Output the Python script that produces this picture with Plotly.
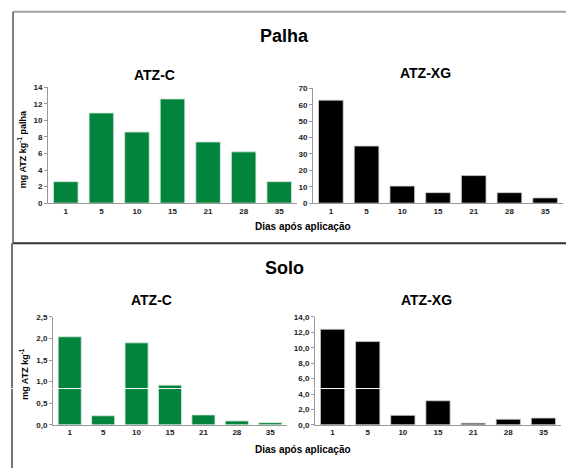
import plotly.graph_objects as go

W, H = 567, 473

dias = ["1", "5", "10", "15", "21", "28", "35"]
palha_atzc = [2.6, 10.9, 8.6, 12.6, 7.4, 6.2, 2.6]
palha_atzxg = [62.8, 34.8, 10.4, 6.4, 16.8, 6.4, 3.2]
solo_atzc = [2.04, 0.21, 1.90, 0.92, 0.23, 0.09, 0.05]
solo_atzxg = [12.4, 10.8, 1.23, 3.12, 0.22, 0.72, 0.88]

solo_c_ticks = [0, 0.5, 1.0, 1.5, 2.0, 2.5]
solo_c_text = ["0,0", "0,5", "1,0", "1,5", "2,0", "2,5"]
solo_xg_ticks = [0, 2, 4, 6, 8, 10, 12, 14]
solo_xg_text = ["0,0", "2,0", "4,0", "6,0", "8,0", "10,0", "12,0", "14,0"]

GREEN = "#03843D"
BLACK = "#000000"

def px(x):
    return x / W

def py(y):
    return 1 - y / H

fig = go.Figure()

panels = [
    (palha_atzc, GREEN, 1, 48, 297, 85, 203, [0, 14], dict(tickvals=list(range(0, 15, 2)))),
    (palha_atzxg, BLACK, 2, 313, 563, 86, 203, [0, 70], dict(tickvals=list(range(0, 71, 10)))),
    (solo_atzc, GREEN, 3, 53, 287, 319, 429, [0, 2.5], dict(tickvals=solo_c_ticks, ticktext=solo_c_text)),
    (solo_atzxg, BLACK, 4, 315, 561, 319, 429, [0, 14], dict(tickvals=solo_xg_ticks, ticktext=solo_xg_text)),
]

tickfont = dict(family="Liberation Sans, Arial", size=8, color="#222", weight="bold")

for vals, col, i, x0, x1, yt, yb, yr, tk in panels:
    sfx = "" if i == 1 else str(i)
    fig.add_trace(go.Bar(
        x=dias, y=vals,
        marker=dict(color=col, line=dict(color="#d8e8dc" if col == GREEN else "#cccccc", width=0.8)),
        xaxis="x" + sfx, yaxis="y" + sfx, showlegend=False,
    ))
    fig.layout["xaxis" + sfx] = dict(
        domain=[px(x0), px(x1)], anchor="y" + sfx, type="category",
        range=[-0.5, 6.5], showgrid=False, zeroline=False,
        showline=True, linecolor="#999999", linewidth=1,
        ticks="", tickfont=tickfont, fixedrange=True,
    )
    fig.layout["yaxis" + sfx] = dict(
        domain=[py(yb), py(yt)], anchor="x" + sfx, range=yr,
        showgrid=False, zeroline=False, showline=True, linecolor="#999999", linewidth=1,
        ticks="outside", ticklen=3, tickcolor="#999999", tickfont=tickfont, **tk,
    )

fig.update_layout(width=W, height=H, margin=dict(l=0, r=0, t=0, b=0),
                  paper_bgcolor="white", plot_bgcolor="white", bargap=0.31)

def text(t, x, y, size, angle=0):
    fig.add_annotation(text=t, x=px(x), y=py(y), xref="paper", yref="paper",
                       showarrow=False, textangle=angle, xanchor="center", yanchor="middle",
                       font=dict(family="Liberation Sans, Arial", size=size, color="black", weight="bold"))

text("Palha", 284, 33, 18)
text("ATZ-C", 154, 72, 14)
text("ATZ-XG", 425, 70, 14)
text("Dias após aplicação", 303, 227, 10)
text("mg ATZ kg<sup>-1</sup> palha", 22, 148, 9, -90)
text("Solo", 284, 269, 18)
text("ATZ-C", 151, 302, 14)
text("ATZ-XG", 426, 302, 14)
text("Dias após aplicação", 303, 454, 10)
text("mg ATZ kg<sup>-1</sup>", 24, 377, 9, -90)

def line(x0, y0, x1, y1, color, w):
    fig.add_shape(type="line", xref="paper", yref="paper",
                  x0=px(x0), y0=py(y0), x1=px(x1), y1=py(y1),
                  line=dict(color=color, width=w))

line(13, 8, 566, 8, "#a0a0a0", 2)
line(13, 8, 13, 244, "#555555", 1.5)
line(13, 244, 566, 244, "#333333", 2)
line(12, 244, 12, 473, "#444444", 1.5)
line(11, 392, 380, 392, "white", 1)

fig.write_html("out.html", config={"displayModeBar": False},
               post_script="document.body.style.margin='0';document.body.style.overflow='hidden';"
                           "document.documentElement.style.overflow='hidden';")
